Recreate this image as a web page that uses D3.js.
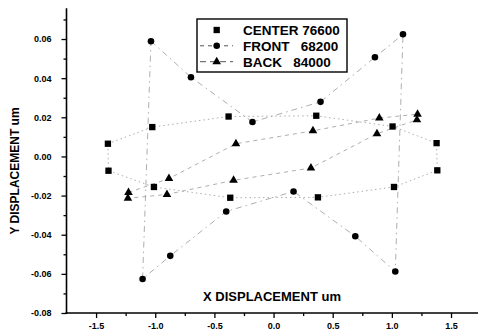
<!DOCTYPE html>
<html><head><meta charset="utf-8">
<script src="https://cdn.jsdelivr.net/npm/d3@7/dist/d3.min.js"></script>
<style>
html,body{margin:0;padding:0;background:#fff;}
svg{display:block;font-family:"Liberation Sans",Arial,sans-serif;font-weight:bold;}
</style></head>
<body><svg id="c" width="478" height="336"></svg>
<script>
const xDomain = [-1.75, 1.75];
const yDomain = [-0.08, 0.0757];
const xTicks = [-1.5, -1.0, -0.5, 0.0, 0.5, 1.0, 1.5];
const xMinor = [-1.25, -0.75, -0.25, 0.25, 0.75, 1.25];
const yTicks = [-0.08, -0.06, -0.04, -0.02, 0.00, 0.02, 0.04, 0.06];
const yMinor = [-0.07, -0.05, -0.03, -0.01, 0.01, 0.03, 0.05, 0.07];

const centerX = [-1.400, -1.025, -0.380, 0.361, 1.006, 1.378, 1.384, 1.018, 0.375, -0.366, -1.011, -1.395];
const centerY = [0.0065, 0.0150, 0.0204, 0.0208, 0.0153, 0.0068, -0.0071, -0.0156, -0.0209, -0.0211, -0.0156, -0.0073];
const frontX = [-1.036, -0.698, -0.178, 0.397, 0.857, 1.094, 1.029, 0.691, 0.169, -0.400, -0.873, -1.107];
const frontY = [0.0589, 0.0405, 0.0176, 0.0279, 0.0507, 0.0624, -0.0588, -0.0408, -0.0179, -0.0281, -0.0508, -0.0626];
const backX = [-1.226, -0.884, -0.318, 0.333, 0.894, 1.217, 1.212, 0.874, 0.316, -0.338, -0.901, -1.231];
const backY = [-0.0184, -0.0113, 0.0065, 0.0131, 0.0196, 0.0216, 0.0187, 0.0116, -0.0059, -0.0122, -0.0194, -0.0214];

const seriesNames = ["CENTER", "FRONT", "BACK"];
const seriesNumbers = ["76600", "68200", "84000"];
const xLabel = "X DISPLACEMENT um";
const yLabel = "Y DISPLACEMENT um";

const svg = d3.select("#c");
const x = d3.scaleLinear().domain(xDomain).range([66.5, 480.6]);
const y = d3.scaleLinear().domain(yDomain).range([313, 8.3]);
const fmtY = v => d3.format(".2f")(v).replace("\u2212", "-");
const fmtX = v => d3.format(".1f")(v).replace("\u2212", "-");

const series = [
  {name: seriesNames[0], num: seriesNumbers[0], xs: centerX, ys: centerY, sym: d3.symbolSquare, size: 40, dash: "1.5,3"},
  {name: seriesNames[1], num: seriesNumbers[1], xs: frontX, ys: frontY, sym: d3.symbolCircle, size: 34, dash: "6,4,1.5,4"},
  {name: seriesNames[2], num: seriesNumbers[2], xs: backX, ys: backY, sym: d3.symbolTriangle, size: 32, dash: "4,4"}
];

// connecting lines
const line = d3.line().x(d => x(d[0])).y(d => y(d[1])).curve(d3.curveLinearClosed);
series.forEach(s => {
  const pts = s.xs.map((v, i) => [v, s.ys[i]]);
  svg.append("path").attr("d", line(pts)).attr("fill", "none")
    .attr("stroke", "#999").attr("stroke-width", 0.8).attr("stroke-dasharray", s.dash);
});
series.forEach(s => {
  const pts = s.xs.map((v, i) => [v, s.ys[i]]);
  svg.append("g").selectAll("path").data(pts).join("path")
    .attr("d", d3.symbol().type(s.sym).size(s.size))
    .attr("transform", d => `translate(${x(d[0])},${y(d[1])})`)
    .attr("fill", "#000");
});

// axes
const ax = svg.append("g").attr("transform", `translate(0,${y(-0.08)})`)
  .call(d3.axisBottom(x).tickValues(xTicks).tickFormat(fmtX).tickSize(5).tickPadding(5));
svg.append("g").attr("transform", `translate(0,${y(-0.08)})`)
  .call(d3.axisBottom(x).tickValues(xMinor).tickFormat("").tickSize(3))
  .select(".domain").remove();
const ay = svg.append("g").attr("transform", `translate(${x(-1.75)},0)`)
  .call(d3.axisLeft(y).tickValues(yTicks).tickFormat(fmtY).tickSize(5).tickPadding(10));
svg.append("g").attr("transform", `translate(${x(-1.75)},0)`)
  .call(d3.axisLeft(y).tickValues(yMinor).tickFormat("").tickSize(3))
  .select(".domain").remove();
svg.selectAll(".domain").attr("stroke-width", 1.6).attr("stroke", "#000");
svg.selectAll(".tick line").attr("stroke-width", 1.3).attr("stroke", "#000");
svg.selectAll(".tick text").attr("font-size", 9).attr("font-weight", "bold")
  .attr("font-family", "Liberation Sans, Arial, sans-serif").attr("fill", "#000");
ay.select(".domain").attr("d", `M0,${y(-0.08) + 1}V${y.range()[1]}`);
ax.select(".domain").attr("d", `M${x(-1.75) - 1},0H${x(1.75)}`);

// axis labels
svg.append("text").attr("x", 272).attr("y", 300.5).attr("text-anchor", "middle")
  .attr("font-size", 13).text(xLabel);
svg.append("text").attr("transform", "translate(18.5,171) rotate(-90)")
  .attr("text-anchor", "middle").attr("font-size", 12).text(yLabel);

// legend
const lg = svg.append("g");
lg.append("rect").attr("x", 197).attr("y", 19).attr("width", 150).attr("height", 53)
  .attr("fill", "#fff").attr("stroke", "#000").attr("stroke-width", 1.4);
const rowY = [30, 45.8, 61.7];
const gaps = [" ", "   ", "   "];
series.forEach((s, i) => {
  if (i > 0) {
    lg.append("line").attr("x1", 200).attr("x2", 233).attr("y1", rowY[i]).attr("y2", rowY[i])
      .attr("stroke", "#555").attr("stroke-width", 1).attr("stroke-dasharray", i === 1 ? "4,4" : "6,4");
  }
  lg.append("path").attr("d", d3.symbol().type(s.sym).size(s.size)())
    .attr("transform", `translate(216.7,${rowY[i]})`).attr("fill", "#000");
  lg.append("text").attr("x", 243).attr("y", rowY[i] + 5).attr("font-size", 13.5)
    .style("white-space", "pre").text(s.name + gaps[i] + s.num);
});
</script></body></html>
